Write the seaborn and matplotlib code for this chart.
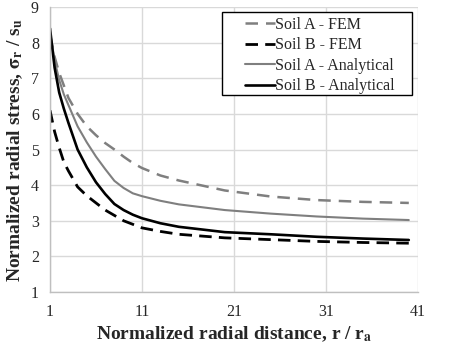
import numpy as np
import pandas as pd
import seaborn as sns
import matplotlib
matplotlib.use("Agg")
import matplotlib.pyplot as plt
from matplotlib.patches import Rectangle

# ---- data ----
x_vals = [1, 1.5, 2, 2.5, 3, 4, 5, 6, 7, 8, 9, 10, 11, 13, 15, 20, 25, 30, 35, 40]
soil_a_fem = [8.2, 7.6, 7.15, 6.8, 6.45, 6.0, 5.65, 5.4, 5.18, 5.0, 4.8, 4.62, 4.48, 4.27, 4.13, 3.85, 3.68, 3.58, 3.53, 3.5]
soil_b_fem = [6.1, 5.5, 5.05, 4.65, 4.4, 3.95, 3.7, 3.5, 3.3, 3.15, 3.0, 2.9, 2.8, 2.7, 2.62, 2.52, 2.47, 2.42, 2.39, 2.37]
soil_a_an = [8.3, 7.5, 6.95, 6.55, 6.25, 5.65, 5.2, 4.8, 4.45, 4.12, 3.92, 3.77, 3.69, 3.56, 3.46, 3.3, 3.2, 3.12, 3.06, 3.02]
soil_b_an = [8.4, 7.3, 6.6, 6.15, 5.75, 5.0, 4.5, 4.08, 3.75, 3.47, 3.3, 3.17, 3.07, 2.93, 2.83, 2.68, 2.62, 2.55, 2.5, 2.46]
labels = ["Soil A - FEM", "Soil B - FEM", "Soil A - Analytical", "Soil B - Analytical"]
x_ticks = [1, 11, 21, 31, 41]
y_ticks = [1, 2, 3, 4, 5, 6, 7, 8, 9]

series = [soil_a_fem, soil_b_fem, soil_a_an, soil_b_an]
df = pd.DataFrame({
    "x": x_vals * 4,
    "y": sum(series, []),
    "series": [lab for lab in labels for _ in x_vals],
})

sns.set_style("white")
plt.rcParams["font.family"] = ["Liberation Serif", "DejaVu Serif"]
plt.rcParams["mathtext.fontset"] = "stix"

fig = plt.figure(figsize=(4.5, 3.44), dpi=100)
ax = fig.add_axes([50/450, 1-292/344, 368/450, 285/344])

styles = {
    "Soil A - FEM": dict(color="#7f7f7f", lw=1.8, dashes=(5, 3.2)),
    "Soil B - FEM": dict(color="#000000", lw=2.0, dashes=(4.5, 2.6)),
    "Soil A - Analytical": dict(color="#7f7f7f", lw=1.5, dashes=None),
    "Soil B - Analytical": dict(color="#000000", lw=1.9, dashes=None),
}
for lab in labels:
    st = styles[lab]
    sub = df[df["series"] == lab]
    sns.lineplot(data=sub, x="x", y="y", ax=ax, color=st["color"], lw=st["lw"],
                 label=lab, sort=False)
    if st["dashes"] is not None:
        ax.lines[-1].set_dashes(st["dashes"])

ax.set_xlim(1, 41)
ax.set_ylim(1, 9)
ax.set_xticks(x_ticks)
ax.set_yticks(y_ticks)
ax.grid(True, color="#d9d9d9", lw=1.0)
ax.set_axisbelow(True)
for s in ["top", "right"]:
    ax.spines[s].set_visible(False)
for s in ["left", "bottom"]:
    ax.spines[s].set_color("#bfbfbf")
    ax.spines[s].set_linewidth(1.0)
ax.tick_params(axis="x", length=0, labelsize=11.5, pad=9)
ax.tick_params(axis="y", length=0, labelsize=11.5, pad=8)

ax.set_xlabel(r"Normalized radial distance, r / r$_\mathbf{a}$", fontsize=14, fontweight="bold", labelpad=3)
ax.set_ylabel(r"Normalized radial stress, $\mathbf{\sigma_r}$ / s$_\mathbf{u}$", fontsize=14, fontweight="bold", labelpad=4)

# legend frame drawn separately (Excel-style padding)
frame = Rectangle((0.467, 0.691), 0.517, 0.291, transform=ax.transAxes,
                  facecolor="white", edgecolor="black", lw=1.0, zorder=4, clip_on=False)
ax.add_patch(frame)
leg = ax.legend(loc="upper left", bbox_to_anchor=(0.53, 0.965), fontsize=11.5,
                frameon=False, borderpad=0, labelspacing=0.28, handlelength=1.9,
                handletextpad=0.0, borderaxespad=0)
leg.set_zorder(5)

fig.savefig("out.png", dpi=100)
